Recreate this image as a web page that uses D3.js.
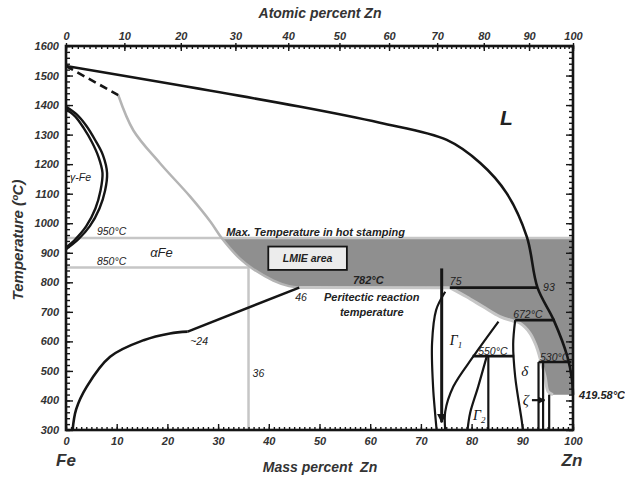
<!DOCTYPE html>
<html><head><meta charset="utf-8">
<script src="https://cdn.jsdelivr.net/npm/d3@7"></script>
<style>
body{margin:0;background:#fff;}
svg{display:block;font-family:"Liberation Sans",Arial,sans-serif;}
.tick text{font-style:italic;font-weight:bold;font-size:11px;fill:#333;}
</style></head><body>
<svg id="c" width="625" height="480"></svg>
<script>
// ---- tick labels ----
const massTicks = [0,10,20,30,40,50,60,70,80,90,100];
const atomicTicks = [0,10,20,30,40,50,60,70,80,90,100];
const tempTicks = [300,400,500,600,700,800,900,1000,1100,1200,1300,1400,1500,1600];

// ---- phase boundaries (mass % Zn, temperature °C) ----
const liquidus = [[0,1532],[46,1395],[61.9,1340],[75.1,1282],[81.7,1204],[86.9,1102],[90.9,954],[93,782],[96.2,672],[98.9,548],[99.8,470],[100,419.58]];
const liquidusDashed = [[0,1532],[10.3,1434]];
const alphaBoundary = [[10.3,1434],[13.3,1314],[18.5,1204],[24.5,1090],[28.5,1005],[30.7,950],[34.3,880],[36.9,845],[40.9,806],[44,787],[46,782]];
const gammaOuter = [[0,1394],[2,1370],[4,1330],[5.8,1280],[7.3,1230],[8.1,1170],[7.7,1110],[6.6,1050],[4.7,990],[2.4,945],[0,912]];
const gammaInner = [[0,1386],[1.8,1362],[3.5,1322],[5.1,1275],[6.4,1225],[7.2,1170],[6.8,1110],[5.8,1050],[4.0,990],[1.8,945],[0,918]];
const alphaSolvus = [[1.3,300],[2.0,370],[4.1,447],[8.7,548],[15.3,604],[20.5,627],[24,633]];
const alphaSolvusLine = [[24,633],[46,782]];
const lmieLower = [[96.05,419.58],[95.1,430],[94.5,481],[93.5,543],[92.8,582],[91.5,628],[89.5,662],[88.2,669],[85.6,684],[82.3,717],[79.0,751],[75.7,782]];
const gamma1Left = [[74.8,768],[73.0,706],[72.2,594],[72.4,447],[72.8,357],[73.1,300]];
const gamma1Right = [[85.3,667],[80.3,548],[76.4,447],[74.8,362],[74.8,300]];
const gamma2Left = [[83.0,550],[81.3,447],[79.7,357],[79.2,300]];
const gamma2Right = [[83.3,550],[83.3,300]];
const deltaLeft = [[88.6,672],[88.2,590],[88.6,480],[89.9,330],[90.1,300]];
const zetaLines = [[[93.2,530],[93.2,300]],[[94.1,530],[94.1,300]],[[95.3,419.58],[95.3,300]]];
const isotherms = [[75.7,93,782],[88.6,96.4,672],[80.2,88.4,550],[93.2,99.7,530]];
const gamma1Arrow = [[74.1,847],[74.1,326]];
const zetaArrow = [[91.9,401],[94.4,401]];
const hotStampT = 950, limitT = 850, limitMass = 36;

// ---- chart ----
const svg = d3.select("#c");
const x = d3.scaleLinear().domain([0,100]).range([66,573]);
const y = d3.scaleLinear().domain([300,1600]).range([430,46]);
const FeW = 55.845, ZnW = 65.38;
const atomicToMass = a => 100*a*ZnW/(a*ZnW+(100-a)*FeW);
const aDom = d3.range(0,101,1);
const xTop = d3.scaleLinear().domain(aDom).range(aDom.map(a=>x(atomicToMass(a))));

const lineC = d3.line().x(d=>x(d[0])).y(d=>y(d[1])).curve(d3.curveCatmullRom.alpha(0.5));
const lineL = d3.line().x(d=>x(d[0])).y(d=>y(d[1]));

const LIGHT = "#c6c6c6", GRAYLINE="#b4b4b4", FILL="#8f8f8f", BLACK="#151515";

// LMIE shaded region
const grayBelow = alphaBoundary.filter(d=>d[1]<=hotStampT);
const p1 = lineC(lmieLower);
const p2 = lineC(grayBelow.slice().reverse());
let dFill = p1 + "L" + x(46) + "," + y(782) + p2.replace(/^M/,"L") +
  "L" + x(100) + "," + y(hotStampT) + "L" + x(100) + "," + y(419.58) + "Z";
svg.append("path").attr("d", dFill).attr("fill", FILL).attr("stroke","none");
svg.append("path").attr("d", p1 + "L" + x(46) + "," + y(782)).attr("fill","none").attr("stroke",LIGHT).attr("stroke-width",3);

// gray reference lines
svg.append("path").attr("d", lineL([[0,hotStampT],[100,hotStampT]])).attr("stroke",LIGHT).attr("stroke-width",2.5).attr("fill","none");
svg.append("path").attr("d", lineL([[0,limitT],[limitMass,limitT],[limitMass,300]])).attr("stroke",LIGHT).attr("stroke-width",2.5).attr("fill","none");
svg.append("path").attr("d", lineC(alphaBoundary)).attr("stroke",GRAYLINE).attr("stroke-width",2.5).attr("fill","none");

// black lines
const blk = (d, w) => svg.append("path").attr("d", d).attr("fill","none").attr("stroke",BLACK).attr("stroke-width",w||2.5).attr("stroke-linecap","butt");
blk(lineC(liquidus), 2.6);
blk(lineL(liquidusDashed), 2.6).attr("stroke-dasharray","8,5");
blk(lineC(gammaOuter), 2.4);
blk(lineC(gammaInner), 2.4);
blk(lineC(alphaSolvus), 2.6);
blk(lineL(alphaSolvusLine), 2.6);
isotherms.forEach(d=>blk(lineL([[d[0],d[2]],[d[1],d[2]]]), 2.6));
blk(lineC(gamma1Left), 2.2);
blk(lineC(gamma1Right), 2.2);
blk(lineC(gamma2Left), 2.2);
blk(lineL(gamma2Right), 2.2);
blk(lineC(deltaLeft), 2.2);
zetaLines.forEach(l=>blk(lineL(l), 2.2));

// arrows
const defs = svg.append("defs");
defs.append("marker").attr("id","ah").attr("viewBox","0 0 10 10").attr("refX",9).attr("refY",5)
  .attr("markerWidth",3.2).attr("markerHeight",3.2).attr("orient","auto")
  .append("path").attr("d","M0,0L10,5L0,10Z").attr("fill",BLACK);
blk(lineL(gamma1Arrow), 3).attr("marker-end","url(#ah)");
blk(lineL(zetaArrow), 2.2).attr("marker-end","url(#ah)");

// LMIE box
svg.append("rect").attr("x",x(39.9)).attr("y",y(921)).attr("width",x(55.4)-x(39.9)).attr("height",y(842)-y(921))
  .attr("fill","#ececec").attr("stroke",BLACK).attr("stroke-width",1.8);

// axes
const g = svg.append("g");
g.append("g").attr("transform",`translate(0,${y(300)})`)
  .call(d3.axisBottom(x).tickValues(d3.range(0,101,1)).tickSize(-3).tickFormat(""));
g.append("g").attr("transform",`translate(0,${y(300)})`)
  .call(d3.axisBottom(x).tickValues(massTicks).tickSize(-6).tickPadding(7).tickFormat(d3.format("d")));
g.append("g").attr("transform",`translate(0,${y(1600)})`)
  .call(d3.axisTop(xTop).tickValues(d3.range(0,101,1)).tickSize(-3).tickFormat(""));
g.append("g").attr("transform",`translate(0,${y(1600)})`)
  .call(d3.axisTop(xTop).tickValues(atomicTicks).tickSize(3).tickPadding(3).tickFormat(d3.format("d")));
g.append("g").attr("transform",`translate(0,${y(1600)})`)
  .call(d3.axisTop(xTop).tickValues(atomicTicks).tickSize(-5).tickFormat(""));
g.append("g").attr("transform",`translate(${x(0)},0)`)
  .call(d3.axisLeft(y).tickValues(d3.range(300,1601,20)).tickSize(-4).tickFormat(""));
g.append("g").attr("transform",`translate(${x(0)},0)`)
  .call(d3.axisLeft(y).tickValues(tempTicks).tickSize(-7).tickPadding(7).tickFormat(d3.format("d")));
g.append("g").attr("transform",`translate(${x(100)},0)`)
  .call(d3.axisRight(y).tickValues(d3.range(300,1601,20)).tickSize(-4).tickFormat(""));
g.append("g").attr("transform",`translate(${x(100)},0)`)
  .call(d3.axisRight(y).tickValues(tempTicks).tickSize(-7).tickFormat(""));
g.selectAll(".domain").remove();
g.selectAll(".tick line").attr("stroke",BLACK).attr("stroke-width",1.4);
svg.append("rect").attr("x",x(0)).attr("y",y(1600)).attr("width",x(100)-x(0)).attr("height",y(300)-y(1600))
  .attr("fill","none").attr("stroke",BLACK).attr("stroke-width",2.6);

// text helper
const T = (px,py,txt,size,opts={}) => {
  const t = svg.append("text").attr("x",px).attr("y",py).text(txt)
    .attr("font-size",size).attr("font-style",opts.style||"italic").attr("font-weight",opts.weight||"bold")
    .attr("fill",opts.fill||"#222").attr("text-anchor",opts.anchor||"start");
  if(opts.family) t.attr("font-family",opts.family);
  return t;
};
T(320,18,"Atomic percent Zn",14,{anchor:"middle",fill:"#333"});
T(320,472,"Mass percent\u00a0\u00a0Zn",14,{anchor:"middle",fill:"#333"});
T(0,0,"Temperature (ºC)",15,{anchor:"middle",fill:"#333"}).attr("transform","translate(23,240) rotate(-90)");
T(66,466,"Fe",17,{anchor:"middle",fill:"#333"});
T(572,466,"Zn",17,{anchor:"middle",fill:"#333"});

// annotations
T(x(6.1),y(960),"950°C",10.5,{weight:"normal"});
T(x(6.1),y(859),"850°C",10.5,{weight:"normal"});
T(x(16.6),y(886),"αFe",13,{weight:"normal"});
T(x(31.6),y(957),"Max. Temperature in hot stamping",11);
T((x(39.9)+x(55.4))/2,y(868),"LMIE area",10.5,{anchor:"middle"});
T(x(56.6),y(794),"782°C",11);
T(x(45.2),y(737),"46",10.5,{weight:"normal"});
T(x(60.3),y(737),"Peritectic reaction",11,{anchor:"middle"});
T(x(60.3),y(686),"temperature",11,{anchor:"middle"});
T(x(24.5),y(588),"~24",10.5,{weight:"normal"});
T(x(36.8),y(480),"36",10.5,{weight:"normal"});
T(x(75.7),y(791),"75",10.5,{weight:"normal"});
T(x(94.1),y(771),"93",10.5,{weight:"normal"});
T(x(88.2),y(679),"672°C",10.5,{weight:"normal"});
T(x(81.3),y(554),"550°C",10.5,{weight:"normal"});
T(x(93.5),y(534),"530°C",10.5,{weight:"normal"});
T(x(101.2),y(405),"419.58°C",11);
T(x(0.8),y(1143),"γ-Fe",10.5,{weight:"normal"});
T(x(85.6),y(1333),"L",21);
const serif = '"Liberation Serif","Times New Roman",serif';
T(x(90.5),y(483),"δ",15,{weight:"normal",family:serif,anchor:"middle",fill:"#111"});
T(x(90.7),y(385),"ζ",15,{weight:"normal",family:serif,anchor:"middle",fill:"#111"});
const g1 = T(x(75.7),y(588),"Γ",14,{weight:"normal",family:serif,fill:"#111"});
g1.append("tspan").attr("font-size",9).attr("dy",3).text("1");
const g2 = T(x(80.3),y(334),"Γ",14,{weight:"normal",family:serif,fill:"#111"});
g2.append("tspan").attr("font-size",9).attr("dy",3).text("2");
</script>
</body></html>
